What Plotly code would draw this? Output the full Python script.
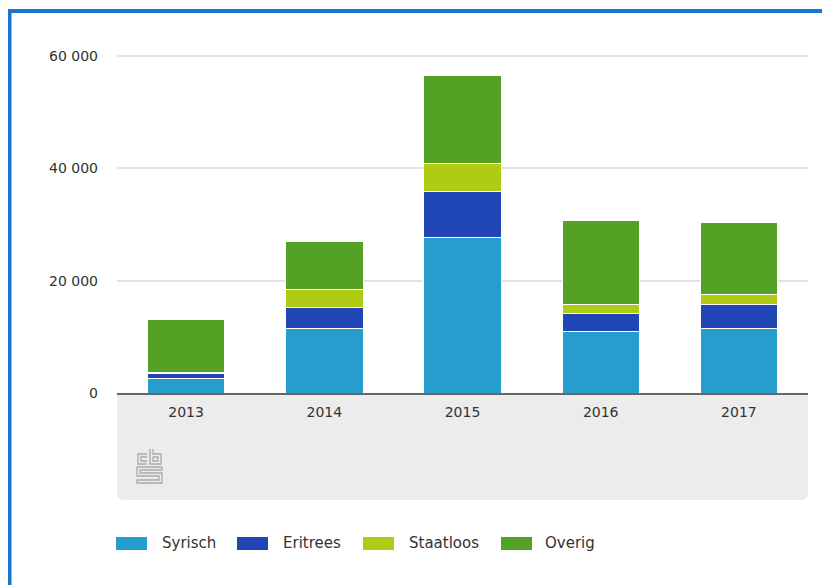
import plotly.graph_objects as go

years = ["2013", "2014", "2015", "2016", "2017"]
series_names = ["Syrisch", "Eritrees", "Staatloos", "Overig"]
syrisch = [2500, 11400, 27600, 11000, 11500]
eritrees = [900, 3900, 8200, 3200, 4300]
staatloos = [200, 3200, 5100, 1600, 1800]
overig = [9400, 8500, 15700, 15000, 12700]
colors = ["#279dce", "#2046b5", "#afcb14", "#53a125"]

W, H = 830, 585
OFF = 8  # page body margin offset
# plot area in screen pixels
SX0, SX1, SY0, SY1 = 117, 808, 40, 393
L, T = SX0 - OFF, SY0 - OFF
R = W - (SX1 - OFF)
B = H - (SY1 - OFF)
PW, PH = SX1 - SX0, SY1 - SY0


def px(x):
    return (x - SX0) / PW


def py(y):
    return (SY1 - y) / PH


def lp(points):
    return "M " + " L ".join(f"{px(a)},{py(b)}" for a, b in points)


fig = go.Figure()
for name, vals, col in zip(series_names, [syrisch, eritrees, staatloos, overig], colors):
    fig.add_trace(go.Bar(x=years, y=vals, name=name, marker=dict(color=col, line=dict(color="white", width=1)),
                         showlegend=False))

shapes = []
# blue frame (left and top edges visible)
shapes.append(dict(type="path", xref="paper", yref="paper", path=lp([(9.5, 700), (9.5, 11), (900, 11)]),
                   line=dict(color="#1a74c9", width=4), layer="below"))
# gray region below axis
x0, x1, y0, y1, r = 117, 808, 393, 500, 7
path = (f"M {px(x0)},{py(y0)} L {px(x1)},{py(y0)} L {px(x1)},{py(y1 - r)} "
        f"Q {px(x1)},{py(y1)} {px(x1 - r)},{py(y1)} L {px(x0 + r)},{py(y1)} "
        f"Q {px(x0)},{py(y1)} {px(x0)},{py(y1 - r)} Z")
shapes.append(dict(type="path", xref="paper", yref="paper", path=path, fillcolor="#ececec",
                   line=dict(width=0), layer="below"))

# cbs logo (approximate)
logo = [
    # c
    [(147, 454), (138, 454), (138, 464), (147, 464)],
    [(147, 457), (141, 457), (141, 461), (147, 461)],
    # b
    [(150, 449), (150, 464), (161, 464), (161, 454), (153, 454), (153, 449)],
    [(153, 457), (158, 457), (158, 461), (153, 461), (153, 457)],
    # S
    [(162, 467), (137, 467), (137, 476), (159, 476), (159, 480), (137, 480), (137, 483), (162, 483),
     (162, 473), (140, 473), (140, 470), (162, 470), (162, 467)],
]
for pts in logo:
    shapes.append(dict(type="path", xref="paper", yref="paper", path=lp(pts),
                       line=dict(color="#a8a8a8", width=1.3)))

# custom legend
legend_items = [(116, 160), (237, 281), (363, 407), (501, 543)]
annotations = []
for (sx, tx), name, col in zip(legend_items, series_names, colors):
    shapes.append(dict(type="rect", xref="paper", yref="paper", x0=px(sx), x1=px(sx + 31),
                       y0=py(550), y1=py(537), fillcolor=col, line=dict(width=0)))
    annotations.append(dict(xref="paper", yref="paper", x=px(tx), y=py(543), text=name, showarrow=False,
                            xanchor="left", yanchor="middle",
                            font=dict(family="DejaVu Sans", size=15, color="#333333")))

fig.update_layout(
    width=W, height=H,
    margin=dict(l=L, r=R, t=T, b=B),
    barmode="stack",
    bargap=0.44,
    paper_bgcolor="white",
    plot_bgcolor="white",
    separators=", ",
    font=dict(family="DejaVu Sans", size=14, color="#333333"),
    shapes=shapes,
    annotations=annotations,
    xaxis=dict(showline=True, linecolor="#666666", linewidth=2, ticks="", showgrid=False,
               tickfont=dict(size=14, color="#333333"), ticklabelstandoff=5),
    yaxis=dict(range=[0, 60000 * PH / 337], tickvals=[0, 20000, 40000, 60000], tickformat=",d",
               showgrid=True, gridcolor="#e2e2e2", gridwidth=1.5, zeroline=False,
               ticklabelstandoff=18, tickfont=dict(size=14, color="#333333")),
)

fig.write_html("out.html")
